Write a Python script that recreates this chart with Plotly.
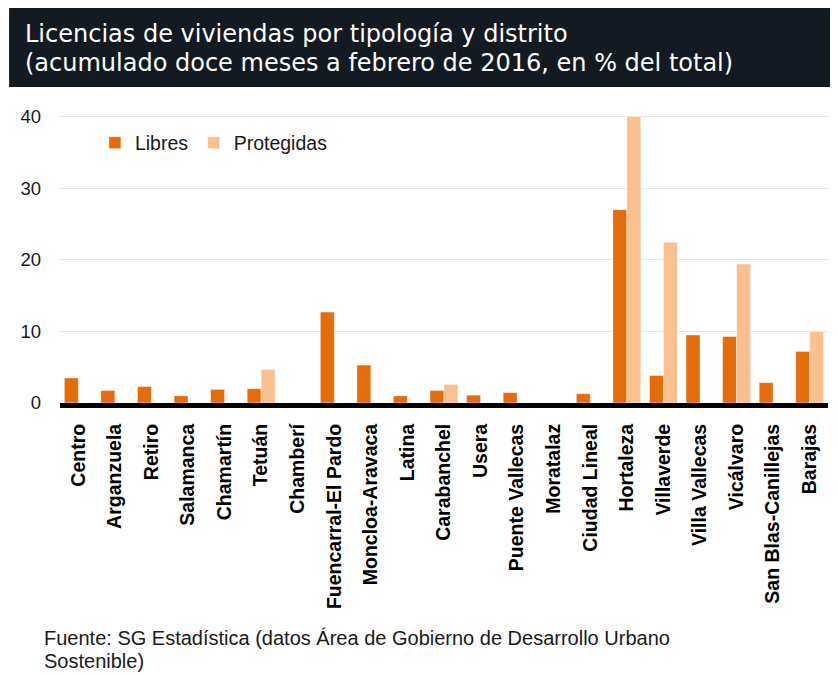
import plotly.graph_objects as go

distritos = ["Centro", "Arganzuela", "Retiro", "Salamanca", "Chamartín", "Tetuán",
             "Chamberí", "Fuencarral-El Pardo", "Moncloa-Aravaca", "Latina",
             "Carabanchel", "Usera", "Puente Vallecas", "Moratalaz", "Ciudad Lineal",
             "Hortaleza", "Villaverde", "Villa Vallecas", "Vicálvaro",
             "San Blas-Canillejas", "Barajas"]
libres = [3.5, 1.75, 2.3, 1.0, 1.9, 2.0, 0.0, 12.7, 5.3, 1.0,
          1.75, 1.1, 1.45, 0.0, 1.3, 27.0, 3.85, 9.5, 9.3, 2.85, 7.2]
protegidas = [0.0, 0.0, 0.0, 0.0, 0.0, 4.7, 0.0, 0.0, 0.0, 0.0,
              2.6, 0.0, 0.0, 0.0, 0.0, 40.0, 22.45, 0.0, 19.4, 0.0, 10.0]
y_ticks = [0, 10, 20, 30, 40]

FONT = "Liberation Sans, Arial, sans-serif"
TITLE_FONT = "DejaVu Sans, sans-serif"
OFF = 8  # page offset of the figure (body margin)
W, H = 838, 675
L, R, T, B = 50, 18, 105, 280
PW, PH = W - L - R, H - T - B


def px_x(page_x):
    return (page_x - OFF - L) / PW


def px_y(page_y):
    return (H - B - (page_y - OFF)) / PH


fig = go.Figure()
fig.add_trace(go.Bar(x=distritos, y=libres, name="Libres", legend="legend",
                     marker=dict(color="#E46C0A", line=dict(color="rgba(255,255,255,0.45)", width=1))))
fig.add_trace(go.Bar(x=distritos, y=protegidas, name="Protegidas", legend="legend2",
                     marker=dict(color="#FAC090", line=dict(color="rgba(255,255,255,0.45)", width=1))))

legend_common = dict(orientation="h", yanchor="middle", y=px_y(143), xanchor="left",
                     font=dict(size=19.5, family=FONT, color="#1a1a1a"),
                     bgcolor="rgba(0,0,0,0)")

fig.update_layout(
    width=W, height=H,
    margin=dict(l=L, r=R, t=T, b=B, pad=0),
    paper_bgcolor="white", plot_bgcolor="white",
    font=dict(family=FONT, color="#1a1a1a"),
    barmode="group", bargap=0.236, bargroupgap=0,
    showlegend=True,
    legend=dict(x=px_x(93), **legend_common),
    legend2=dict(x=px_x(192), **legend_common),
    xaxis=dict(type="category", tickangle=-90, showgrid=False,
               showline=True, linecolor="black", linewidth=5, ticks="",
               tickfont=dict(size=19.5, family=FONT, color="black", weight="bold"),
               ticklabelstandoff=8, fixedrange=True),
    yaxis=dict(range=[0, 40.5], tickvals=y_ticks, showgrid=True, gridcolor="#E6E6E6",
               gridwidth=1, zeroline=False, showline=False, ticks="",
               tickfont=dict(size=18.5, family=FONT, color="#1a1a1a"),
               ticklabelstandoff=18, fixedrange=True),
)

fig.add_shape(type="rect", xref="paper", yref="paper",
              x0=px_x(7), x1=px_x(850), y0=px_y(87), y1=px_y(8),
              fillcolor="#141A22", line=dict(width=0), layer="above")

fig.add_annotation(xref="paper", yref="paper", x=px_x(21), y=px_y(33.5),
                   xanchor="left", yanchor="middle", showarrow=False,
                   text="Licencias de viviendas por tipología y distrito",
                   font=dict(size=24, family=TITLE_FONT, color="white"))
fig.add_annotation(xref="paper", yref="paper", x=px_x(21), y=px_y(63),
                   xanchor="left", yanchor="middle", showarrow=False,
                   text="(acumulado doce meses a febrero de 2016, en % del total)",
                   font=dict(size=24, family=TITLE_FONT, color="white"))

fig.add_annotation(xref="paper", yref="paper", x=px_x(40), y=px_y(638),
                   xanchor="left", yanchor="middle", showarrow=False,
                   text="Fuente: SG Estadística (datos Área de Gobierno de Desarrollo Urbano",
                   font=dict(size=20, family=FONT, color="#1a1a1a"))
fig.add_annotation(xref="paper", yref="paper", x=px_x(40), y=px_y(661),
                   xanchor="left", yanchor="middle", showarrow=False,
                   text="Sostenible)",
                   font=dict(size=20, family=FONT, color="#1a1a1a"))

fig.write_html("out.html", config=dict(displayModeBar=False))
